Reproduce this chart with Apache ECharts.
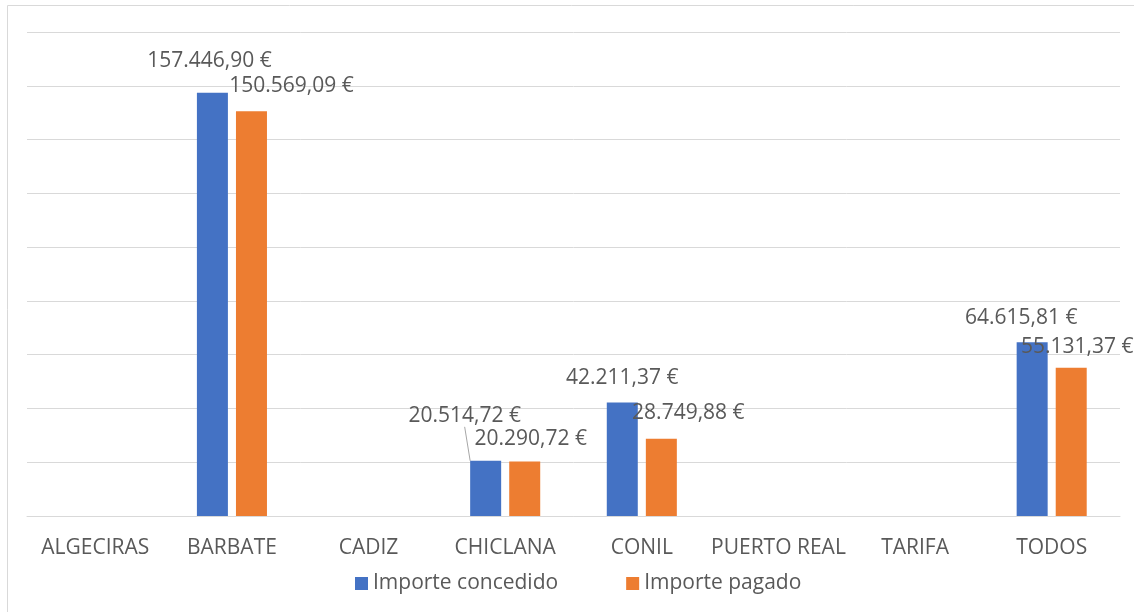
<!DOCTYPE html>
<html>
<head>
<meta charset="utf-8">
<script src="https://cdn.jsdelivr.net/npm/echarts@6/dist/echarts.min.js"></script>
<style>
  html, body { margin: 0; padding: 0; background: #fff; }
  #chart { width: 1134px; height: 612px; }
</style>
</head>
<body>
<div id="chart"></div>
<script>
const municipios = ['ALGECIRAS', 'BARBATE', 'CADIZ', 'CHICLANA', 'CONIL', 'PUERTO REAL', 'TARIFA', 'TODOS'];
const importeConcedido = [null, 157446.90, null, 20514.72, 42211.37, null, null, 64615.81];
const importePagado = [null, 150569.09, null, 20290.72, 28749.88, null, null, 55131.37];

// label nudges (dx, dy) so the labels sit where Excel put them
const concedidoLabelShift = [null, [-3, -16], null, [-21, -29], [0, -9], null, null, [-11, -9]];
const pagadoLabelShift = [null, [40, -10], null, [6, -7], [27, -10], null, null, [6, -5]];

const FONT = '"Open Sans", sans-serif';
const TEXT = '#595959';

// 157446.9 -> "157.446,90 €"
const euros = v => {
  const [ent, dec] = v.toFixed(2).split('.');
  return ent.replace(/\B(?=(\d{3})+(?!\d))/g, '.') + ',' + dec + ' €';
};

const toItems = (values, withLine) => values.map((v, i) => {
  if (v == null) return null;
  const item = { value: v };
  if (withLine && withLine(i)) item.labelLine = { show: true, lineStyle: { color: '#a6a6a6', width: 1 } };
  return item;
});

const shiftFor = [concedidoLabelShift, pagadoLabelShift];

const chart = echarts.init(document.getElementById('chart'));

const option = {
  animation: false,
  textStyle: { fontFamily: FONT },
  graphic: [{
    type: 'rect',
    shape: { x: 7.5, y: 5.5, width: 1300, height: 800 },
    style: { fill: 'none', stroke: '#d9d9d9', lineWidth: 1 },
    silent: true
  }],
  grid: { left: 27, right: 14, top: 32, bottom: 96 },
  legend: {
    bottom: 13,
    left: 350,
    icon: 'rect',
    itemWidth: 13,
    itemHeight: 13,
    itemGap: 68,
    textStyle: { color: TEXT, fontSize: 21, fontFamily: FONT }
  },
  xAxis: {
    type: 'category',
    data: municipios,
    axisLine: { lineStyle: { color: '#d9d9d9', width: 1 } },
    axisTick: { show: false },
    axisLabel: { color: TEXT, fontSize: 21, fontFamily: FONT, margin: 22, interval: 0 }
  },
  yAxis: {
    type: 'value',
    min: 0,
    max: 180000,
    interval: 20000,
    axisLabel: { show: false },
    axisLine: { show: false },
    axisTick: { show: false },
    splitLine: { lineStyle: { color: '#d9d9d9', width: 1 } }
  },
  series: [
    {
      name: 'Importe concedido',
      type: 'bar',
      data: toItems(importeConcedido, i => municipios[i] === 'CHICLANA'),
      barWidth: 31,
      barGap: '26%',
      itemStyle: { color: '#4472C4' }
    },
    {
      name: 'Importe pagado',
      type: 'bar',
      data: toItems(importePagado),
      barWidth: 31,
      itemStyle: { color: '#ED7D31' }
    }
  ].map(s => Object.assign(s, {
    label: {
      show: true,
      position: 'top',
      distance: 5,
      color: TEXT,
      fontSize: 21,
      fontFamily: FONT,
      formatter: p => euros(p.value)
    },
    labelLayout: p => {
      const sh = shiftFor[p.seriesIndex][p.dataIndex];
      return sh ? { dx: sh[0], dy: sh[1] } : {};
    }
  }))
};

chart.setOption(option);
window.addEventListener('resize', () => chart.resize());
</script>
</body>
</html>
